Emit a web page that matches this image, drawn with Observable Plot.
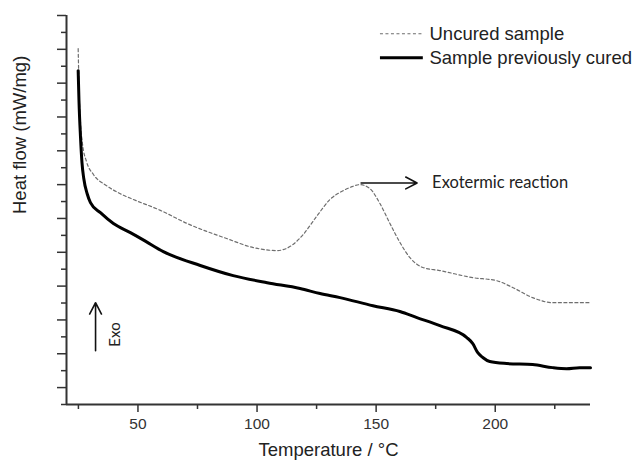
<!DOCTYPE html>
<html>
<head>
<meta charset="utf-8">
<script src="https://cdn.jsdelivr.net/npm/d3@7"></script>
<script src="https://cdn.jsdelivr.net/npm/@observablehq/plot@0.6"></script>
<style>
  html, body { margin: 0; padding: 0; background: #fff; }
  #chart svg { display: block; }
</style>
</head>
<body>
<div id="chart"></div>
<script>
// Temperature (°C) and heat flow (arbitrary units, exo up)
const tempUncured = [24.9, 25.3, 25.9, 26.7, 28.4, 31.3, 36.8, 42.6, 48.1, 59.4, 70.7, 87.5, 98.4, 108.4, 115.1, 119.3, 125.2, 130.6, 136.1, 139.9, 143.2, 147.4, 151.6, 155.8, 160.0, 164.2, 169.6, 176.7, 190.6, 200.6, 207.3, 215.7, 224.1, 240.0];
const flowUncured = [10.02, 8.78, 7.80, 7.21, 6.68, 6.30, 5.97, 5.73, 5.56, 5.24, 4.85, 4.40, 4.14, 4.05, 4.23, 4.52, 5.08, 5.56, 5.82, 5.94, 6.00, 5.88, 5.44, 4.85, 4.29, 3.84, 3.55, 3.46, 3.25, 3.16, 2.96, 2.66, 2.51, 2.51];

const tempCured = [24.9, 25.24, 25.87, 26.5, 27.25, 28.68, 30.06, 34.25, 39.7, 46.82, 53.11, 60.65, 76.16, 89.99, 104.24, 118.07, 126.45, 134.84, 148.67, 159.98, 167.11, 176.75, 188.06, 190.58, 192.67, 194.77, 197.7, 204.83, 215.72, 224.11, 229.97, 235.42, 240.0];
const flowCured = [9.37, 8.48, 7.42, 6.65, 6.18, 5.73, 5.47, 5.17, 4.85, 4.58, 4.33, 4.02, 3.61, 3.31, 3.10, 2.93, 2.78, 2.66, 2.42, 2.25, 2.07, 1.83, 1.48, 1.30, 1.03, 0.89, 0.77, 0.71, 0.68, 0.59, 0.56, 0.59, 0.59];

const xMajorTicks = [50, 100, 150, 200];
const xMinorTicks = [25, 75, 125, 175, 225];
const yMajorTicks = [0, 1, 2, 3, 4, 5, 6, 7, 8, 9, 10, 11];
const yMinorTicks = [-0.5, 0.5, 1.5, 2.5, 3.5, 4.5, 5.5, 6.5, 7.5, 8.5, 9.5, 10.5];

const seriesNames = ["Uncured sample", "Sample previously cured"];
const xLabel = "Temperature / °C";
const yLabel = "Heat flow (mW/mg)";
const peakLabel = "Exotermic reaction";
const exoLabel = "Exo";

const uncured = tempUncured.map((t, i) => ({t, f: flowUncured[i]}));
const cured = tempCured.map((t, i) => ({t, f: flowCured[i]}));

// exothermic peak of the uncured sample
const peak = d3.greatest(uncured.filter(d => d.t > 110 && d.t < 170), d => d.f);

const axisColor = "#333";
const sansFont = "Liberation Sans";
const humanFont = "Lato";

const legend = [
  {name: seriesNames[0], x1: 151.6, x2: 169.6, y: 10.46, dashed: true},
  {name: seriesNames[1], x1: 151.6, x2: 169.6, y: 9.75, dashed: false}
];

const chart = Plot.plot({
  width: 640,
  height: 463,
  marginLeft: 66,
  marginRight: 50,
  marginTop: 15,
  marginBottom: 59,
  style: {fontFamily: sansFont, background: "#fff", color: axisColor},
  x: {domain: [20, 240], label: null},
  y: {domain: [-0.5, 11], label: null},
  marks: [
    // minor & major ticks
    Plot.axisX(xMinorTicks, {tickSize: 5, tickFormat: () => "", stroke: axisColor, strokeWidth: 1.5, label: null}),
    Plot.axisX(xMajorTicks, {tickSize: 8, tickPadding: 5, fontSize: 15.5, fontFamily: sansFont, fill: axisColor, stroke: axisColor, strokeWidth: 1.5, label: null}),
    Plot.axisY(yMinorTicks, {tickSize: 5, tickFormat: () => "", stroke: axisColor, strokeWidth: 1.5, label: null}),
    Plot.axisY(yMajorTicks, {tickSize: 9, tickFormat: () => "", stroke: axisColor, strokeWidth: 1.5, label: null}),
    Plot.ruleX([20], {stroke: axisColor, strokeWidth: 2}),
    Plot.ruleY([-0.5], {stroke: axisColor, strokeWidth: 2}),
    // axis labels
    Plot.text([xLabel], {frameAnchor: "bottom", dy: 51, fontSize: 18.5, fontFamily: sansFont, fill: "#222"}),
    Plot.text([yLabel], {frameAnchor: "left", dx: -46, dy: 4, rotate: -90, fontSize: 18.5, fontFamily: sansFont, fill: "#222"}),
    // curves
    Plot.line(uncured, {x: "t", y: "f", stroke: "#6e6e6e", strokeWidth: 1.2, strokeDasharray: "3,2.5", curve: "monotone-x"}),
    Plot.line(cured, {x: "t", y: "f", stroke: "#000", strokeWidth: 3, curve: "monotone-x"}),
    // legend
    Plot.link(legend, {x1: "x1", x2: "x2", y1: "y", y2: "y",
      stroke: d => d.dashed ? "#6e6e6e" : "#000",
      strokeWidth: d => d.dashed ? 1.2 : 3}),
    Plot.text(legend, {x: d => d.x2 + 2.8, y: "y", text: "name", textAnchor: "start", fontSize: 18.5, fontFamily: sansFont, fill: "#222"}),
    // exothermic annotation
    Plot.arrow([peak], {x1: d => d.t + 0.5, y1: d => d.f + 0.05, x2: d => d.t + 24, y2: d => d.f + 0.05, stroke: "#111", strokeWidth: 1.6, headLength: 12, headAngle: 55}),
    Plot.text([peak], {x: d => d.t + 30.3, y: d => d.f + 0.05, text: () => peakLabel, textAnchor: "start", fontSize: 16.5, fontFamily: humanFont, fill: "#222"}),
    // Exo direction
    Plot.arrow([{x: 32.2, y1: 1.09, y2: 2.51}], {x1: "x", x2: "x", y1: "y1", y2: "y2", stroke: "#111", strokeWidth: 1.6, headLength: 12, headAngle: 55}),
    Plot.text([{x: 40.5, y: 1.57}], {x: "x", y: "y", text: () => exoLabel, rotate: -90, fontSize: 15, fontFamily: humanFont, fill: "#222"})
  ]
});

// the dashed legend sample
d3.select(chart).selectAll("[aria-label=link] path").filter((d, i) => i === 0)
  .attr("stroke-dasharray", "3,2.5");

document.getElementById("chart").appendChild(chart);
</script>
</body>
</html>
